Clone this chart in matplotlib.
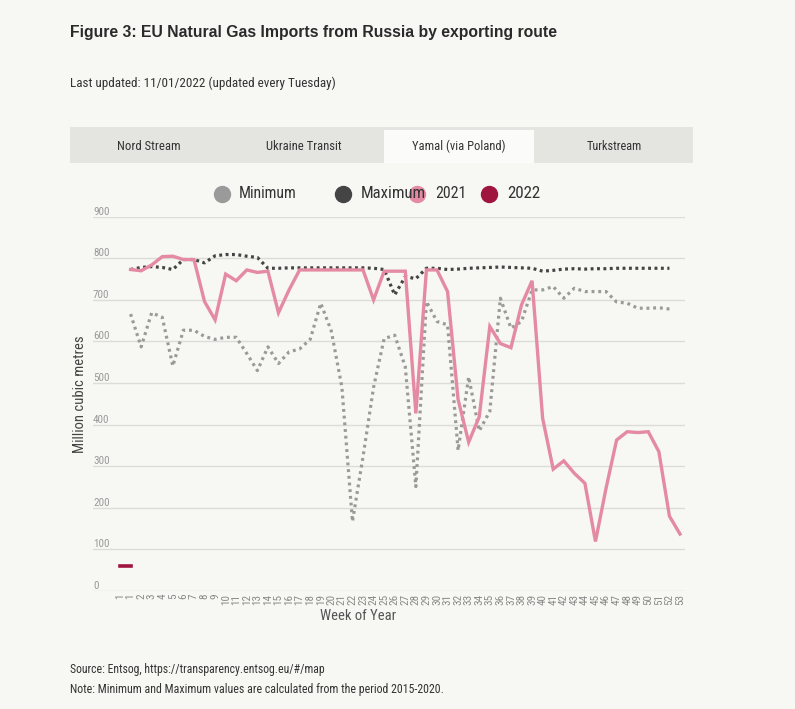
import matplotlib
matplotlib.use("Agg")
import matplotlib.pyplot as plt
from matplotlib.lines import Line2D
from matplotlib.patches import Rectangle
from matplotlib import font_manager as fm
import matplotlib.transforms as mtransforms

plt.rcParams['font.family'] = ['Liberation Sans', 'DejaVu Sans']

# ---------------- data ----------------
week_labels = ['1'] + [str(i) for i in range(1, 54)]

minimum = [666, 587, 669, 658, 541, 627, 627, 612, 605, 610, 610, 571, 530, 587,
           547, 575, 582, 605, 692, 625, 490, 167, 323, 490, 607, 615, 539, 251,
           696, 648, 640, 338, 515, 385, 432, 704, 632, 648, 724, 724, 732, 704,
           728, 720, 720, 720, 695, 692, 680, 680, 681, 678]

maximum = [773, 778, 780, 778, 773, 797, 797, 789, 806, 809, 809, 805, 802, 776,
           776, 777, 777, 777, 777, 777, 777, 777, 777, 776, 773, 712, 756, 751,
           776, 776, 773, 774, 776, 777, 778, 779, 778, 777, 776, 769, 771, 774,
           775, 774, 775, 775, 776, 776, 776, 776, 776, 776]

y2021 = [773, 770, 784, 804, 805, 797, 797, 696, 652, 762, 746, 772, 766, 769,
         669, 724, 772, 772, 772, 772, 772, 772, 772, 700, 769, 769, 769, 427,
         772, 772, 720, 460, 358, 419, 636, 595, 585, 688, 746, 415, 293, 313,
         283, 259, 119, 247, 363, 383, 381, 383, 335, 180, 137]

y2022 = [59, 59]

y_ticks = [0, 100, 200, 300, 400, 500, 600, 700, 800, 900]
tabs = ['Nord Stream', 'Ukraine Transit', 'Yamal (via Poland)', 'Turkstream']
legend_names = ['Minimum', 'Maximum', '2021', '2022']

# ---------------- fonts ----------------
def find_condensed():
    pref = ['Liberation Sans Narrow', 'Roboto Condensed', 'Noto Sans', 'Open Sans',
            'DejaVu Sans', 'Roboto', 'Liberation Sans']
    cands = []
    for f in fm.fontManager.ttflist:
        nm = f.name
        st = str(f.stretch)
        path = f.fname.lower()
        is_cond = ('condensed' in nm.lower() or 'narrow' in nm.lower()
                   or st in ('condensed', 'semi-condensed', 'extra-condensed')
                   or 'condensed' in path or 'narrow' in path)
        if not is_cond:
            continue
        if f.style != 'normal':
            continue
        w = f.weight if isinstance(f.weight, int) else 400
        if w != 400:
            continue
        if 'extracondensed' in path.replace('-', '').replace('_', ''):
            continue
        rank = len(pref)
        for i, p in enumerate(pref):
            if nm.startswith(p):
                rank = i
                break
        cands.append((rank, f.fname))
    if cands:
        cands.sort()
        return fm.FontProperties(fname=cands[0][1])
    return fm.FontProperties(family='Liberation Sans')

COND = find_condensed()

# ---------------- style ----------------
BG = '#f7f7f4'
C_MIN = '#9a9a9a'
C_MAX = '#444444'
C_2021 = '#e48aa2'
C_2022 = '#a0153e'
TXT = '#333333'

W, H = 795, 709
fig = plt.figure(figsize=(W / 100, H / 100), dpi=100, facecolor=BG)
renderer = fig.canvas.get_renderer()

def fx(px):
    return px / W

def fy(py):
    return 1 - py / H

def fit_text(x, y, s, width_px, max_size, fp=None, rotation=0, **kw):
    props = fp.copy() if fp is not None else fm.FontProperties(family='Liberation Sans')
    props.set_size(10)
    t = fig.text(fx(x), fy(y), s, fontproperties=props, rotation=rotation, **kw)
    bb = t.get_window_extent(renderer)
    cur = bb.height if rotation == 90 else bb.width
    size = min(max_size, 10 * width_px / cur)
    props2 = props.copy()
    props2.set_size(size)
    t.set_fontproperties(props2)
    return t

# Axes placement
ax_left, ax_right = 93, 685
ax_top, ax_bottom = 216.7, 591
ax = fig.add_axes([fx(ax_left), fy(ax_bottom), fx(ax_right - ax_left), (ax_bottom - ax_top) / H])
ax.set_facecolor(BG)

x_all = list(range(len(week_labels)))
x_weeks = x_all[1:]

ax.plot(x_weeks[:len(minimum)], minimum, color=C_MIN, lw=2.3, linestyle=(0, (0.9, 1.2)),
        dash_capstyle='butt', zorder=3)
ax.plot(x_weeks[:len(maximum)], maximum, color=C_MAX, lw=2.3, linestyle=(0, (0.9, 1.1)),
        dash_capstyle='butt', zorder=3)
ax.plot(x_weeks[:len(y2021)], y2021, color=C_2021, lw=2.4, solid_joinstyle='miter', zorder=4)
ax.plot(x_all[:len(y2022)], y2022, color=C_2022, lw=2.6, zorder=5)

spacing = (680 - 120) / 53.0
ax.set_xlim(-(120 - ax_left) / spacing, (ax_right - 120) / spacing)
ax.set_ylim(0, 900)

for v in y_ticks:
    ax.axhline(v, color='#dcdcd8', lw=1.0, zorder=1)

for s in ax.spines.values():
    s.set_visible(False)

tick_fp = COND.copy()
tick_fp.set_size(8)
ax.set_yticks([])
ax.set_xticks(x_all)
ax.set_xticklabels(week_labels, rotation=90, fontproperties=tick_fp, color='#8a8a8a')
ax.tick_params(axis='x', length=0, pad=2)

trans = mtransforms.blended_transform_factory(ax.transAxes, ax.transData)
for v in y_ticks:
    ax.text(0.0, v, str(v), transform=trans, ha='left', va='bottom',
            fontproperties=tick_fp, color='#9a9a9a')

fit_text(358, 616, 'Week of Year', 77, 10.5, fp=COND, ha='center', va='center', color='#555555')
fit_text(80, 394, 'Million cubic metres', 128, 10.5, fp=COND, rotation=90,
         ha='center', va='center', color='#444444')

# ---------------- header ----------------
title_fp = fm.FontProperties(family='Liberation Sans', weight='bold')
fit_text(70, 32, 'Figure 3: EU Natural Gas Imports from Russia by exporting route', 488, 12,
         fp=title_fp, ha='left', va='center', color='#2a2a2a')
fit_text(70, 83, 'Last updated: 11/01/2022 (updated every Tuesday)', 263, 9.5,
         fp=COND, ha='left', va='center', color=TXT)

# tabs
fig.patches.append(Rectangle((fx(70), fy(163)), fx(693 - 70), (163 - 127) / H,
                             transform=fig.transFigure, facecolor='#e4e4e1', edgecolor='none'))
fig.patches.append(Rectangle((fx(384), fy(163)), fx(534 - 384), (163 - 130) / H,
                             transform=fig.transFigure, facecolor='#fbfbf9', edgecolor='none'))
tab_centers = [148.5, 303.5, 458.5, 614.5]
tab_widths = [63, 75, 93, 55]
for name, cx, tw in zip(tabs, tab_centers, tab_widths):
    fit_text(cx, 146, name, tw, 9.5, fp=COND, ha='center', va='center', color=TXT)

# legend
leg_marker_x = [222, 343, 417, 489]
leg_text_x = [239, 361, 435, 507]
leg_text_w = [58, 65, 31, 33]
for name, c, mx, tx, tw in zip(legend_names, [C_MIN, C_MAX, C_2021, C_2022],
                                leg_marker_x, leg_text_x, leg_text_w):
    fig.add_artist(Line2D([fx(mx)], [fy(194)], transform=fig.transFigure, marker='o',
                          linestyle='none', markersize=11.5, markerfacecolor=c,
                          markeredgecolor=c))
    fit_text(tx, 193, name, tw, 13, fp=COND, ha='left', va='center', color=TXT)

# footer
fit_text(70, 669, 'Source: Entsog, https://transparency.entsog.eu/#/map', 253, 9,
         fp=COND, ha='left', va='center', color=TXT)
fit_text(70, 689, 'Note: Minimum and Maximum values are calculated from the period 2015-2020.', 370, 9,
         fp=COND, ha='left', va='center', color=TXT)

fig.savefig('out.png', dpi=100, facecolor=BG)
